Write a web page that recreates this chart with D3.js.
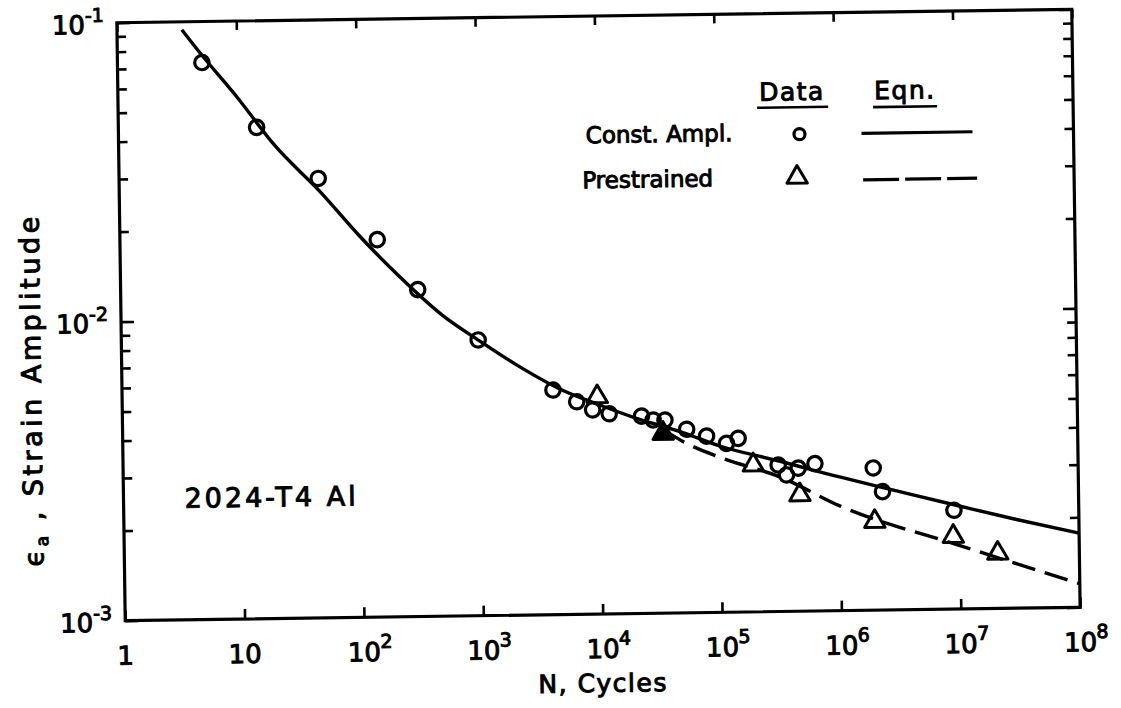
<!DOCTYPE html>
<html>
<head>
<meta charset="utf-8">
<script src="https://cdn.jsdelivr.net/npm/d3@7"></script>
<style>
  body { margin: 0; background: #fff; }
  svg text { font-family: "DejaVu Sans", sans-serif; fill: #000; stroke: #000; stroke-width: 1px; }
</style>
</head>
<body>
<svg id="chart" width="1121" height="708"></svg>
<script>
// Strain-life data for 2024-T4 aluminium
// Constant amplitude tests: cycles to failure and strain amplitude
const constN   = [5.1, 14.4, 46.6, 143, 308, 975, 4070, 6410, 8710, 11970, 22300, 27900, 35000,
                  53100, 77800, 114000, 143000, 307000, 360000, 452000, 624000, 1.92e6, 2.28e6, 9.0e6];
const constEps = [0.0729, 0.0440, 0.0295, 0.0183, 0.0124, 0.00836, 0.00564, 0.00514, 0.00482, 0.00467,
                  0.00457, 0.00443, 0.00442, 0.00411, 0.00389, 0.00367, 0.00381, 0.00309, 0.00286,
                  0.00301, 0.00311, 0.00299, 0.00249, 0.00214];

// Prestrained tests (the second one is drawn filled)
const preN   = [9550, 33700, 190000, 463000, 1.95e6, 8.83e6, 2.07e7];
const preEps = [0.00533, 0.00399, 0.00310, 0.00245, 0.00198, 0.00175, 0.00153];
const preFilled = [false, true, false, false, false, false, false];

// Fitted equation curves
const eqConstN   = [3.5, 5, 10, 20, 50, 100, 200, 500, 1000, 2000, 5000, 1e4, 2e4, 5e4, 1e5, 3e5, 1e6, 3e6, 1e7, 3e7, 1e8];
const eqConstEps = [0.094, 0.078, 0.0555, 0.0385, 0.0262, 0.0190, 0.0142, 0.0101, 0.0083, 0.0069, 0.0056,
                    0.0050, 0.0045, 0.0040, 0.0036, 0.0032, 0.0028, 0.0025, 0.00221, 0.00198, 0.00177];
const eqPreN   = [3.4e4, 5e4, 1e5, 3.16e5, 1e6, 1e7, 1e8];
const eqPreEps = [0.0041, 0.00373, 0.0033, 0.00282, 0.00224, 0.00163, 0.00120];

// Axis ticks
const xTicks = [1, 10, 1e2, 1e3, 1e4, 1e5, 1e6, 1e7, 1e8];
const xTickBase = ["1", "10", "10", "10", "10", "10", "10", "10", "10"];
const xTickExp  = ["", "", "2", "3", "4", "5", "6", "7", "8"];
const yTicks = [1e-3, 1e-2, 1e-1];
const yTickExp = ["-3", "-2", "-1"];

const svg = d3.select("#chart");
const W = 1121, H = 708;
svg.append("rect").attr("width", W).attr("height", H).attr("fill", "#fff");

const margin = { left: 121, right: 1076, top: 16, bottom: 614 };
// whole sheet sits slightly tilted
const g = svg.append("g").attr("transform", "rotate(-0.8, 599, 315)");

const x = d3.scaleLog().domain([1, 1e8]).range([margin.left, margin.right]);
const y = d3.scaleLog().domain([1e-3, 1e-1]).range([margin.bottom, margin.top]);

// minor ticks (2..9 of each decade) for the vertical axes
const yMinor = [];
[1e-3, 1e-2].forEach(d => { for (let k = 2; k <= 9; k++) yMinor.push(d * k); });

const tickStyle = sel => {
  sel.select(".domain").remove();
  sel.selectAll("line").attr("stroke", "#000").attr("stroke-width", 2.6);
  sel.selectAll("text").remove();
};

g.append("g").attr("transform", `translate(0,${margin.bottom})`)
  .call(d3.axisBottom(x).tickValues(xTicks).tickSize(-10).tickFormat(() => "")).call(tickStyle);
g.append("g").attr("transform", `translate(0,${margin.top})`)
  .call(d3.axisTop(x).tickValues(xTicks).tickSize(-9).tickFormat(() => "")).call(tickStyle);
g.append("g").attr("transform", `translate(${margin.left},0)`)
  .call(d3.axisLeft(y).tickValues(yMinor).tickSize(-9).tickFormat(() => "")).call(tickStyle);
g.append("g").attr("transform", `translate(${margin.left},0)`)
  .call(d3.axisLeft(y).tickValues(yTicks).tickSize(-13).tickFormat(() => "")).call(tickStyle);
g.append("g").attr("transform", `translate(${margin.right},0)`)
  .call(d3.axisRight(y).tickValues(yMinor).tickSize(-9).tickFormat(() => "")).call(tickStyle);
g.append("g").attr("transform", `translate(${margin.right},0)`)
  .call(d3.axisRight(y).tickValues(yTicks).tickSize(-13).tickFormat(() => "")).call(tickStyle);

// frame
g.append("rect")
  .attr("x", margin.left).attr("y", margin.top)
  .attr("width", margin.right - margin.left).attr("height", margin.bottom - margin.top)
  .attr("fill", "none").attr("stroke", "#000").attr("stroke-width", 3.2);

// x tick labels: "10" centred on the tick, exponent to the right
xTicks.forEach((t, i) => {
  g.append("text").attr("x", x(t)).attr("y", margin.bottom + 44)
    .attr("font-size", 26).attr("text-anchor", "middle").text(xTickBase[i]);
  if (xTickExp[i]) {
    g.append("text").attr("x", x(t) + 16).attr("y", margin.bottom + 31)
      .attr("font-size", 19).attr("text-anchor", "start").text(xTickExp[i]);
  }
});

// y tick labels
yTicks.forEach((t, i) => {
  const tx = g.append("text").attr("x", margin.left - 13).attr("y", y(t) + 11)
    .attr("font-size", 26).attr("text-anchor", "end");
  tx.append("tspan").text("10");
  tx.append("tspan").attr("dy", -12).attr("font-size", 19).text(yTickExp[i]);
});

// axis titles
g.append("text").attr("x", 598).attr("y", 692).attr("font-size", 25)
  .attr("text-anchor", "middle").attr("letter-spacing", 1.5).text("N, Cycles");

const yt = g.append("text").attr("transform", "translate(40,382) rotate(-90)")
  .attr("font-size", 27).attr("text-anchor", "middle").attr("letter-spacing", 3.5);
yt.append("tspan").text("ϵ");
yt.append("tspan").attr("font-size", 17).attr("dy", 5).text("a");
yt.append("tspan").attr("dy", -5).text(" , Strain  Amplitude");

// material label
g.append("text").attr("x", 182).attr("y", 502).attr("font-size", 27)
  .attr("letter-spacing", 3).text("2024-T4 Al");

// equation curves
const line = d3.line().x(d => x(d[0])).y(d => y(d[1])).curve(d3.curveMonotoneX);
g.append("path").datum(eqConstN.map((n, i) => [n, eqConstEps[i]]))
  .attr("d", line).attr("fill", "none").attr("stroke", "#000").attr("stroke-width", 3.4);
g.append("path").datum(eqPreN.map((n, i) => [n, eqPreEps[i]]))
  .attr("d", line).attr("fill", "none").attr("stroke", "#000").attr("stroke-width", 3.4)
  .attr("stroke-dasharray", "24,10");

// data markers
g.selectAll("circle.const").data(constN.map((n, i) => [n, constEps[i]]))
  .join("circle").attr("class", "const")
  .attr("cx", d => x(d[0])).attr("cy", d => y(d[1])).attr("r", 7.2)
  .attr("fill", "none").attr("stroke", "#000").attr("stroke-width", 3.2);

const tri = d3.symbol(d3.symbolTriangle, 180);
g.selectAll("path.pre").data(preN.map((n, i) => [n, preEps[i], preFilled[i]]))
  .join("path").attr("class", "pre")
  .attr("transform", d => `translate(${x(d[0])},${y(d[1])})`)
  .attr("d", tri).attr("fill", d => d[2] ? "#000" : "none")
  .attr("stroke", "#000").attr("stroke-width", 3).attr("stroke-linejoin", "round");

// legend
const lg = g.append("g");
lg.append("text").attr("x", 795).attr("y", 103).attr("font-size", 25).attr("text-anchor", "middle")
  .attr("letter-spacing", 1.5).text("Data");
lg.append("text").attr("x", 908).attr("y", 103).attr("font-size", 25).attr("text-anchor", "middle")
  .attr("letter-spacing", 1.5).text("Eqn.");
lg.append("line").attr("x1", 760).attr("x2", 831).attr("y1", 110).attr("y2", 110).attr("stroke", "#000").attr("stroke-width", 2.6);
lg.append("line").attr("x1", 876).attr("x2", 940).attr("y1", 111).attr("y2", 111).attr("stroke", "#000").attr("stroke-width", 2.6);

lg.append("text").attr("x", 735).attr("y", 143).attr("font-size", 23).attr("text-anchor", "end").text("Const. Ampl.");
lg.append("circle").attr("cx", 802).attr("cy", 137).attr("r", 5.5).attr("fill", "none").attr("stroke", "#000").attr("stroke-width", 3.2);
lg.append("line").attr("x1", 864).attr("x2", 975).attr("y1", 137).attr("y2", 137).attr("stroke", "#000").attr("stroke-width", 3.2);

lg.append("text").attr("x", 715).attr("y", 188).attr("font-size", 23).attr("text-anchor", "end").text("Prestrained");
lg.append("path").attr("transform", "translate(799,180)").attr("d", tri)
  .attr("fill", "none").attr("stroke", "#000").attr("stroke-width", 3).attr("stroke-linejoin", "round");
lg.append("line").attr("x1", 865).attr("x2", 979).attr("y1", 183.5).attr("y2", 183.5)
  .attr("stroke", "#000").attr("stroke-width", 3.2).attr("stroke-dasharray", "36,6");
</script>
</body>
</html>
